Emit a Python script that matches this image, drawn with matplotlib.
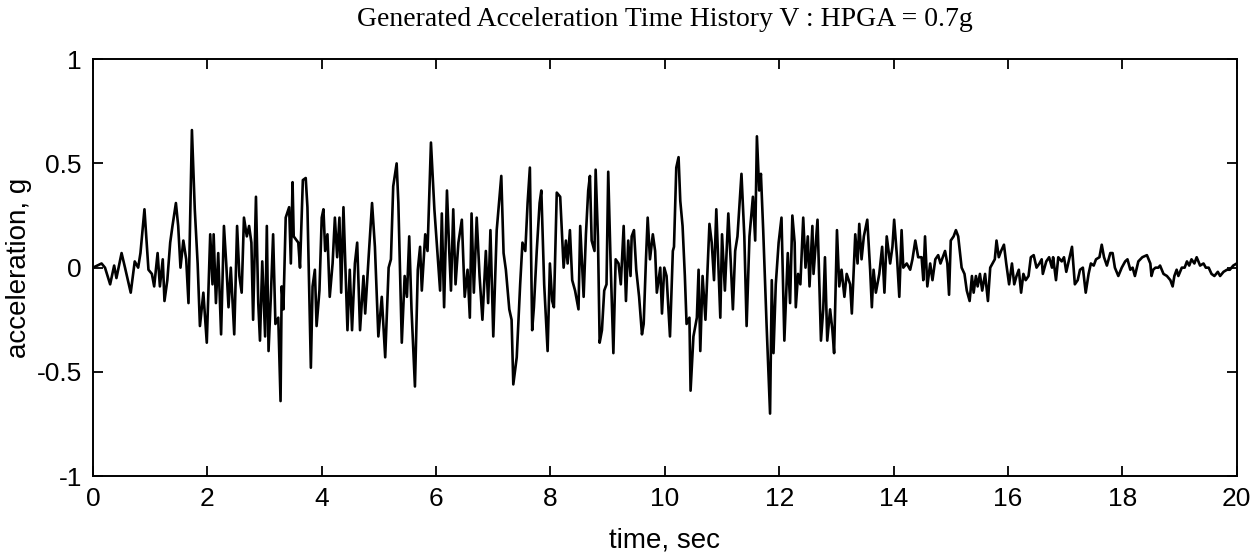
import matplotlib
matplotlib.use("Agg")
import matplotlib.pyplot as plt

# acceleration (g), by time (s)
t = [0.00, 0.15, 0.21, 0.30, 0.37, 0.41, 0.50, 0.56, 0.66, 0.73, 0.79, 0.83, 0.90, 0.97,
     1.03, 1.07, 1.13, 1.17, 1.22, 1.25, 1.30, 1.35, 1.39, 1.45, 1.49, 1.53, 1.58, 1.63,
     1.67, 1.73, 1.78, 1.83, 1.87, 1.93, 1.99, 2.05, 2.09, 2.11, 2.15, 2.19, 2.24, 2.29,
     2.33, 2.37, 2.41, 2.47, 2.52, 2.56, 2.60, 2.64, 2.69, 2.73, 2.77, 2.80, 2.85, 2.89,
     2.92, 2.96, 3.01, 3.04, 3.07, 3.11, 3.15, 3.19, 3.24, 3.28,
     3.30, 3.33, 3.37, 3.43, 3.46, 3.49, 3.51, 3.59, 3.62, 3.67, 3.72, 3.75, 3.81, 3.84,
     3.88, 3.91, 3.96, 4.00, 4.03, 4.06, 4.10, 4.14, 4.19, 4.23, 4.27, 4.31, 4.34, 4.38,
     4.42, 4.45, 4.49, 4.53, 4.58, 4.62, 4.67, 4.73, 4.76, 4.82, 4.88, 4.93,
     4.99, 5.05, 5.11, 5.17, 5.21, 5.25, 5.31, 5.34, 5.40, 5.45, 5.49, 5.53, 5.57, 5.63,
     5.68, 5.72, 5.75, 5.81, 5.85, 5.91, 5.97, 6.07, 6.10, 6.14, 6.19, 6.23, 6.26, 6.30,
     6.34, 6.39, 6.45, 6.50, 6.55, 6.59, 6.62,
     6.66, 6.71, 6.76, 6.81, 6.87, 6.91, 6.95, 7.00, 7.06, 7.14, 7.18, 7.22, 7.28, 7.32,
     7.35, 7.41, 7.47, 7.51, 7.56, 7.60, 7.64, 7.68, 7.71, 7.76, 7.81, 7.84, 7.89, 7.95,
     7.99, 8.03, 8.06, 8.11, 8.17, 8.23, 8.27,
     8.30, 8.34, 8.38, 8.43, 8.49, 8.52, 8.58, 8.62, 8.66, 8.69, 8.72, 8.77, 8.79, 8.83,
     8.86, 8.90, 8.94, 8.98, 9.01, 9.05, 9.10, 9.14, 9.19, 9.23, 9.28, 9.32, 9.36, 9.40,
     9.42, 9.46, 9.50, 9.55, 9.60, 9.63, 9.67, 9.70, 9.74, 9.79, 9.83, 9.86, 9.92, 9.95,
     9.99,
     10.03, 10.09, 10.14, 10.16, 10.20, 10.24, 10.27, 10.31, 10.35, 10.38, 10.43, 10.45,
     10.50, 10.56, 10.59, 10.62, 10.66, 10.71, 10.78, 10.82, 10.86, 10.90, 10.94, 10.97,
     11.00, 11.05, 11.11, 11.15, 11.19, 11.23, 11.27, 11.34, 11.39, 11.43, 11.48, 11.54,
     11.58, 11.61,
     11.65, 11.68, 11.72, 11.78, 11.84, 11.87, 11.90, 11.94, 11.99, 12.04, 12.09, 12.15,
     12.19, 12.23, 12.27, 12.29, 12.33, 12.37, 12.42, 12.46, 12.50, 12.53, 12.58, 12.60,
     12.67, 12.73, 12.77, 12.80, 12.84, 12.89, 12.93, 12.96, 13.01, 13.05, 13.09, 13.14,
     13.18, 13.24, 13.27,
     13.33, 13.37, 13.40, 13.44, 13.48, 13.54, 13.59, 13.62, 13.65, 13.69, 13.75, 13.80,
     13.84, 13.88, 13.94, 13.98, 14.01, 14.06, 14.10, 14.14, 14.17, 14.23, 14.29, 14.33,
     14.38, 14.43, 14.49, 14.52, 14.55, 14.59, 14.64, 14.68, 14.73, 14.78, 14.82, 14.90,
     14.94,
     14.97, 15.00, 15.05, 15.09, 15.13, 15.19, 15.24, 15.28, 15.33, 15.37, 15.40, 15.44,
     15.47, 15.51, 15.55, 15.60, 15.65, 15.69, 15.73, 15.77, 15.80, 15.84, 15.88, 15.93,
     15.97, 16.02, 16.07, 16.11, 16.15, 16.19, 16.23, 16.27, 16.31, 16.36, 16.40, 16.45,
     16.50, 16.55, 16.59,
     16.61, 16.67, 16.72, 16.77, 16.79, 16.84, 16.88, 16.94, 16.98, 17.02, 17.07, 17.12,
     17.17, 17.22, 17.26, 17.31, 17.36, 17.41, 17.45, 17.50, 17.54, 17.60, 17.64, 17.68,
     17.73, 17.79, 17.83, 17.87, 17.93, 17.99, 18.05, 18.09, 18.14, 18.18,
     18.22, 18.28, 18.35, 18.43, 18.49, 18.51, 18.54, 18.58, 18.63, 18.66, 18.72, 18.78,
     18.84, 18.88, 18.91, 18.95, 18.98, 19.04, 19.09, 19.13, 19.17, 19.21, 19.26, 19.30,
     19.36, 19.42, 19.46, 19.51, 19.56, 19.61, 19.67, 19.71, 19.77, 19.83, 19.88, 19.94,
     20.00]

acc = [0.00, 0.02, 0.00, -0.08, 0.01, -0.05, 0.07, 0.00, -0.12, 0.03, 0.00, 0.07, 0.28, -0.01,
       -0.03, -0.09, 0.07, -0.09, 0.04, -0.16, -0.06, 0.12, 0.20, 0.31, 0.20, 0.00, 0.13, 0.04,
       -0.17, 0.66, 0.28, 0.02, -0.28, -0.12, -0.36, 0.16, -0.08, 0.16, -0.17, 0.07, -0.32, 0.20,
       0.02, -0.19, 0.00, -0.32, 0.20, -0.04, -0.12, 0.24, 0.15, 0.20, 0.12, -0.25, 0.34, -0.17,
       -0.35, 0.03, -0.33, 0.20, -0.40, -0.14, 0.16, -0.27, -0.24, -0.64,
       -0.09, -0.20, 0.24, 0.29, 0.02, 0.41, 0.15, 0.12, 0.00, 0.42, 0.43, 0.29, -0.48, -0.09,
       -0.01, -0.28, -0.11, 0.24, 0.28, 0.08, 0.16, -0.14, 0.02, 0.24, 0.05, 0.24, -0.12, 0.29,
       -0.04, -0.30, -0.01, -0.30, 0.02, 0.12, -0.30, -0.04, -0.22, 0.05, 0.31, 0.10,
       -0.33, -0.14, -0.43, 0.00, 0.04, 0.39, 0.50, 0.31, -0.36, -0.04, -0.14, 0.15, -0.20, -0.57,
       -0.01, 0.10, -0.11, 0.16, 0.08, 0.60, 0.28, -0.11, 0.26, -0.19, 0.37, 0.08, -0.11, 0.28,
       -0.08, 0.12, 0.23, -0.14, -0.01, -0.24, 0.26,
       -0.12, 0.24, -0.04, -0.25, 0.08, -0.17, 0.18, -0.33, 0.18, 0.44, 0.07, -0.01, -0.20, -0.25,
       -0.56, -0.43, -0.08, 0.12, 0.08, 0.31, 0.48, -0.30, -0.19, 0.08, 0.31, 0.37, -0.08, -0.40,
       0.02, -0.16, -0.19, 0.36, 0.34, 0.00, 0.13,
       0.02, 0.18, -0.06, -0.11, -0.20, 0.20, -0.14, 0.16, 0.37, 0.44, 0.13, 0.08, 0.47, 0.15,
       -0.36, -0.30, -0.11, -0.08, 0.46, 0.04, -0.41, 0.04, 0.02, -0.08, 0.20, -0.16, 0.13, -0.04,
       0.15, 0.18, -0.01, -0.14, -0.32, -0.27, 0.04, 0.24, 0.04, 0.16, 0.08, -0.12, 0.00, -0.22,
       0.00,
       -0.04, -0.33, 0.08, 0.10, 0.48, 0.53, 0.32, 0.20, -0.04, -0.27, -0.24, -0.59,
       -0.33, -0.24, -0.01, -0.40, -0.04, -0.25, 0.21, 0.12, -0.06, 0.28, -0.01, -0.24,
       0.16, -0.11, 0.26, 0.04, -0.20, 0.08, 0.15, 0.45, 0.15, -0.28, 0.15, 0.34,
       0.13, 0.63,
       0.37, 0.45, 0.18, -0.28, -0.70, -0.06, -0.41, -0.08, 0.12, 0.24, -0.35, 0.07,
       -0.17, 0.25, 0.12, -0.19, -0.03, -0.08, 0.24, 0.00, 0.15, -0.09, 0.20, -0.03,
       0.23, -0.35, -0.20, 0.05, -0.35, -0.20, -0.30, -0.41, 0.18, -0.09, -0.01, -0.14,
       -0.03, -0.08, -0.22,
       0.16, 0.02, 0.21, 0.04, 0.15, 0.23, -0.01, -0.19, -0.01, -0.12, -0.03, 0.10,
       -0.12, 0.15, 0.02, 0.10, 0.23, 0.05, -0.14, 0.18, 0.00, 0.02, -0.01, 0.04,
       0.13, 0.05, 0.05, -0.06, 0.15, -0.09, 0.02, -0.06, 0.04, 0.06, 0.02, 0.08,
       0.02,
       -0.13, 0.13, 0.15, 0.18, 0.15, 0.00, -0.03, -0.11, -0.16, -0.04, -0.12, -0.04,
       -0.09, -0.03, -0.11, -0.03, -0.16, 0.00, 0.02, 0.04, 0.13, 0.05, 0.08, 0.11,
       0.02, -0.08, 0.02, -0.08, -0.04, -0.01, -0.12, -0.03, -0.06, -0.04, 0.05, 0.06,
       0.00, 0.02, 0.04,
       -0.03, 0.03, 0.05, 0.00, 0.05, -0.06, 0.05, 0.03, 0.05, -0.02, 0.04, 0.10,
       -0.08, -0.06, -0.01, 0.00, -0.12, -0.03, 0.02, 0.01, 0.04, 0.05, 0.11, 0.05,
       0.01, 0.07, 0.07, 0.00, -0.04, 0.00, 0.03, 0.04, -0.01, 0.00,
       -0.04, 0.03, 0.05, 0.06, 0.02, -0.04, -0.01, 0.00, 0.00, 0.01, -0.03, -0.04,
       -0.06, -0.09, -0.04, -0.01, -0.04, 0.00, 0.00, 0.03, 0.01, 0.04, 0.02, 0.05,
       0.01, 0.02, 0.00, 0.00, -0.03, -0.04, -0.02, -0.04, -0.02, -0.01, -0.01, 0.01,
       0.02]

xticks = [0, 2, 4, 6, 8, 10, 12, 14, 16, 18, 20]
yticks = [-1, -0.5, 0, 0.5, 1]
ytick_labels = ["-1", "-0.5", "0", "0.5", "1"]

fig = plt.figure(figsize=(12.6, 5.53), dpi=100)
ax = fig.add_axes([0.0738, 0.139, 0.9077, 0.754])
ax.plot(t, acc, color="black", linewidth=1.9)

ax.set_xlim(0, 20)
ax.set_ylim(-1, 1)
ax.set_xticks(xticks)
ax.set_yticks(yticks)
ax.set_yticklabels(ytick_labels)
ax.tick_params(direction="in", top=True, right=True, length=7, width=1.3,
               labelsize=19, pad=8)
for s in ax.spines.values():
    s.set_linewidth(1.4)

for lab in ax.get_xticklabels() + ax.get_yticklabels():
    lab.set_family("Liberation Sans")
ax.set_xlabel("time, sec", fontsize=20, family="Liberation Sans", labelpad=12)
ax.set_ylabel("acceleration, g", fontsize=20, family="Liberation Sans", labelpad=3)
ax.set_title("Generated Acceleration Time History V : HPGA = 0.7g", fontsize=20,
             family="Liberation Serif", pad=24)

fig.savefig("out.png", dpi=100)
